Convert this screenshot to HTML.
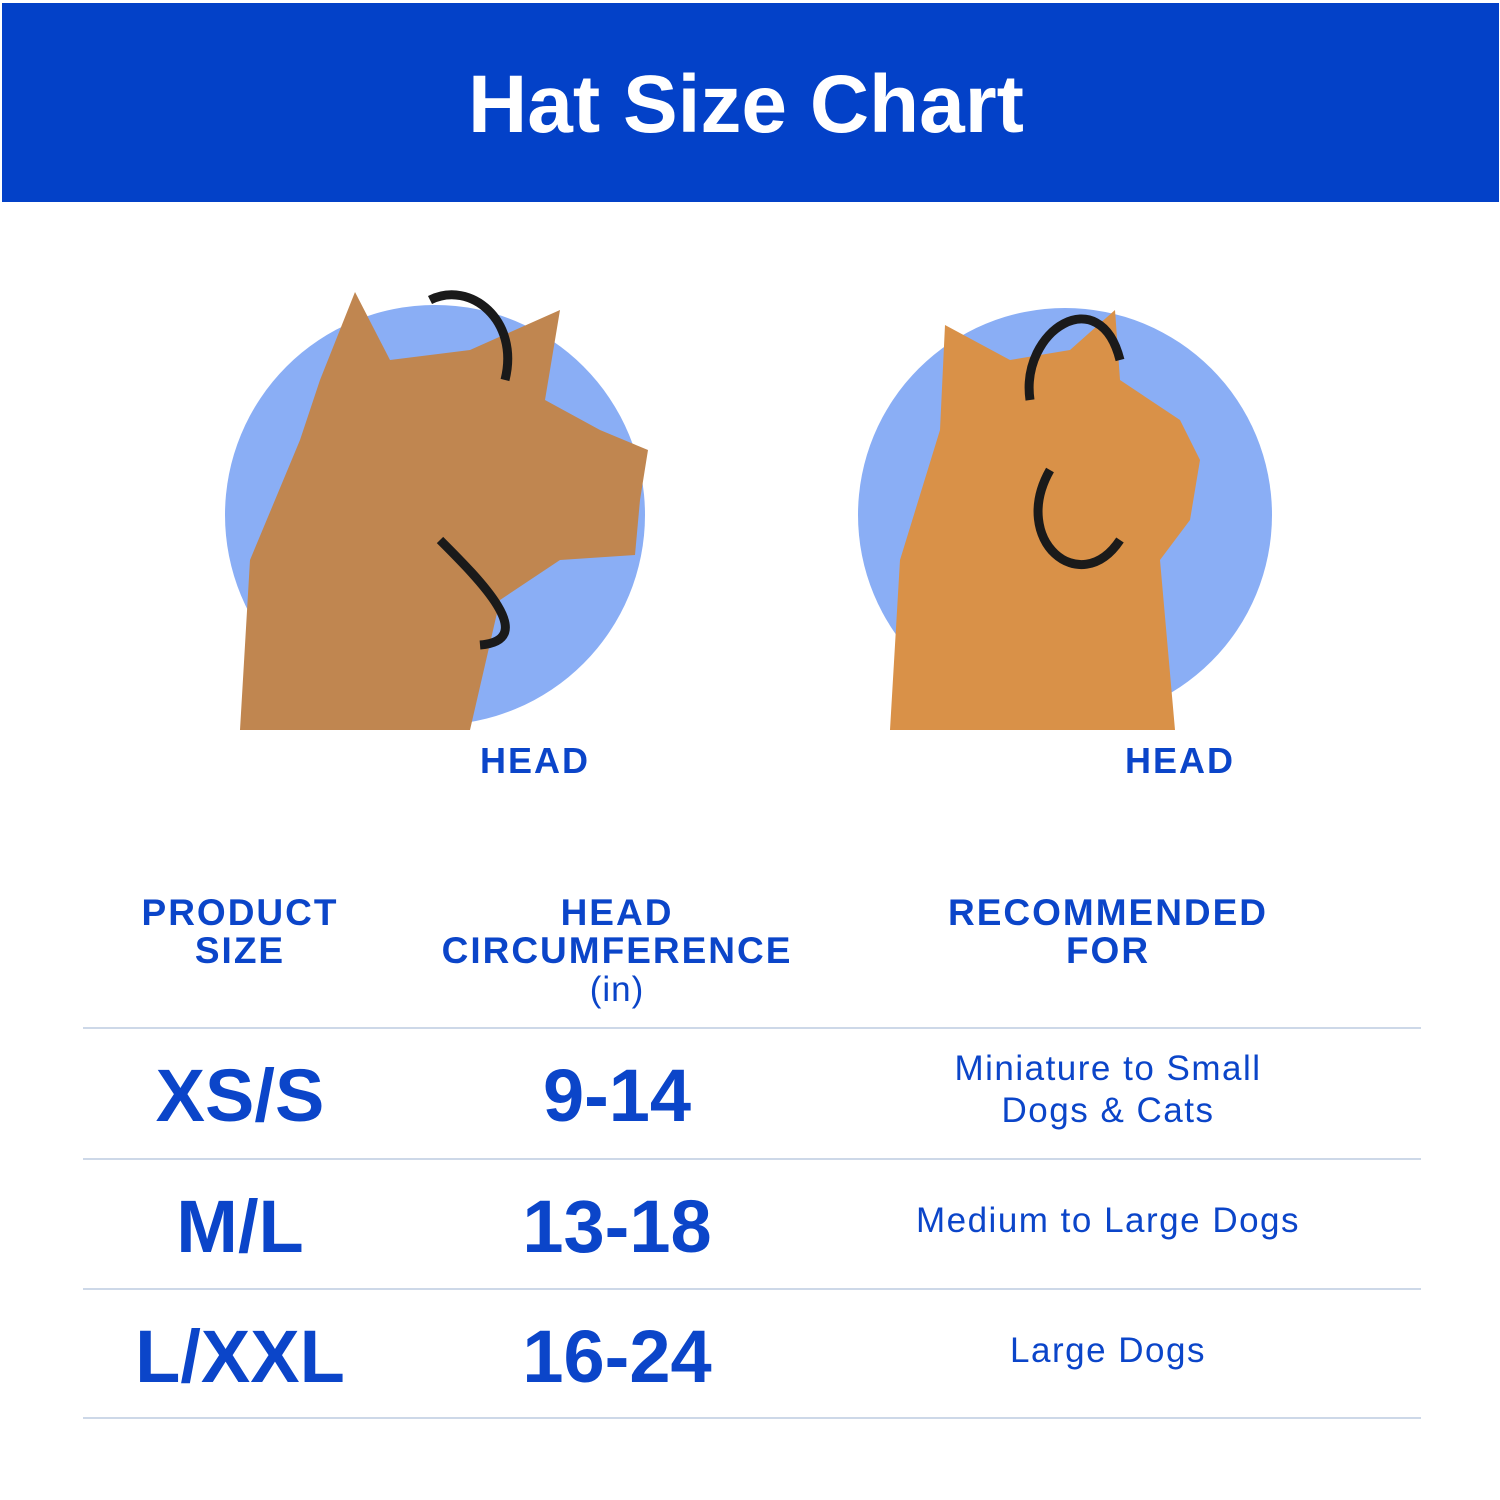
<!DOCTYPE html>
<html><head><style>
body{margin:0;width:1500px;height:1500px;background:#fff;position:relative;overflow:hidden;font-family:"Liberation Sans",sans-serif;color:#0b45c9}
.a{position:absolute;text-align:center;white-space:nowrap}
.hdr{font-weight:bold;font-size:37px;letter-spacing:2px;line-height:38px}
.big{font-weight:bold;font-size:74px;line-height:80px}
.rec{font-size:35px;letter-spacing:1.5px;line-height:42px}
.ln{position:absolute;left:83px;width:1338px;height:2px;background:#cdd8e8}
</style></head><body>
<div style="position:absolute;left:2px;top:3px;width:1497px;height:199px;background:#0341c8"></div>
<div class="a" style="left:0;width:1492px;top:60px;font-size:82px;font-weight:bold;color:#fff;line-height:90px">Hat Size Chart</div>
<svg style="position:absolute;left:0;top:0" width="1500" height="800">
<circle cx="435" cy="515" r="210" fill="#8aaef5"/>
<path d="M240,730 L250,560 L300,440 L320,380 L355,292 L390,360 L470,350 L560,310 L545,400 L600,430 L648,450 L640,500 L635,555 L560,560 L500,600 L470,730 Z" fill="#c08650"/>
<path d="M430,300 C470,280 520,320 505,380 M440,540 C480,580 540,640 480,645" stroke="#1a1a1a" stroke-width="9" fill="none"/>
<circle cx="1065" cy="515" r="207" fill="#8aaef5"/>
<path d="M890,730 L900,560 L940,430 L945,325 L1010,360 L1070,350 L1115,310 L1120,380 L1180,420 L1200,460 L1190,520 L1160,560 L1175,730 Z" fill="#d99148"/>
<path d="M1030,400 C1020,330 1100,280 1120,360 M1050,470 C1010,540 1080,600 1120,540" stroke="#1a1a1a" stroke-width="9" fill="none"/>
</svg>
<div class="a hdr" style="left:435px;width:200px;top:742px;font-size:36px">HEAD</div>
<div class="a hdr" style="left:1080px;width:200px;top:742px;font-size:36px">HEAD</div>
<div class="a hdr" style="left:90px;width:300px;top:894px">PRODUCT<br>SIZE</div>
<div class="a hdr" style="left:417px;width:400px;top:894px">HEAD<br>CIRCUMFERENCE</div>
<div class="a" style="left:517px;width:200px;top:970px;font-size:35px;letter-spacing:1px">(in)</div>
<div class="a hdr" style="left:908px;width:400px;top:894px">RECOMMENDED<br>FOR</div>
<div class="ln" style="top:1027px"></div>
<div class="ln" style="top:1158px"></div>
<div class="ln" style="top:1288px"></div>
<div class="ln" style="top:1417px"></div>
<div class="a big" style="left:90px;width:300px;top:1056px">XS/S</div>
<div class="a big" style="left:467px;width:300px;top:1056px">9-14</div>
<div class="a rec" style="left:858px;width:500px;top:1048px">Miniature to Small<br>Dogs &amp; Cats</div>
<div class="a big" style="left:90px;width:300px;top:1187px">M/L</div>
<div class="a big" style="left:467px;width:300px;top:1187px">13-18</div>
<div class="a rec" style="left:808px;width:600px;top:1200px">Medium to Large Dogs</div>
<div class="a big" style="left:90px;width:300px;top:1317px">L/XXL</div>
<div class="a big" style="left:467px;width:300px;top:1317px">16-24</div>
<div class="a rec" style="left:858px;width:500px;top:1330px">Large Dogs</div>
</body></html>
